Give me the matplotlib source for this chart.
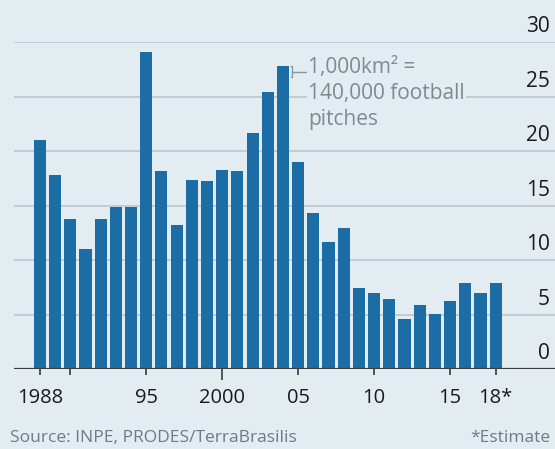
import matplotlib.pyplot as plt

plt.rcParams['font.family'] = ['Open Sans', 'DejaVu Sans']

# Brazilian Amazon deforestation, '000 km2 per year
years = list(range(1988, 2019))
area = [21.05, 17.77, 13.73, 11.03, 13.79, 14.90, 14.90, 29.06, 18.16, 13.23,
        17.38, 17.26, 18.23, 18.17, 21.65, 25.40, 27.77, 19.01, 14.29, 11.65,
        12.91, 7.46, 7.00, 6.42, 4.57, 5.89, 5.01, 6.21, 7.89, 6.95, 7.90]

xticks = [1988, 1990, 1995, 2000, 2005, 2010, 2015, 2018]
xticklabels = ["1988", "", "95", "2000", "05", "10", "15", "18*"]
yticks = [0, 5, 10, 15, 20, 25, 30]

bg = "#e3ecf1"
bar_col = "#1c6ca6"

fig = plt.figure(figsize=(5.55, 4.49), dpi=100, facecolor=bg)
ax = fig.add_axes([14 / 555, 1 - 369 / 449, 541 / 555, 327 / 449])
ax.set_facecolor(bg)

ax.bar(years, area, width=0.8, color=bar_col, zorder=3)

ax.set_xlim(1986.3, 2021.9)
ax.set_ylim(0, 30)

# horizontal gridlines with labels sitting above them on the right
for v in yticks:
    if v == 0:
        ax.axhline(v, color="#3a3a3a", lw=1.6, zorder=4)
    else:
        ax.axhline(v, color="#bcc6cc", lw=1.2, zorder=1)
    ax.text(536 / 541, v + 0.45, str(v),
            transform=ax.get_yaxis_transform(),
            ha="right", va="bottom", fontsize=15, color="#1a1a1a", clip_on=False)

ax.set_yticks([])
ax.set_xticks(xticks)
ax.set_xticklabels(xticklabels, fontsize=14.5, color="#1a1a1a")
ax.tick_params(axis="x", length=4, width=1.2, color="#3a3a3a", pad=10)
ax.get_xticklines()[6].set_markersize(8)
for s in ax.spines.values():
    s.set_visible(False)

# scale note next to the 2004 bar
bx = 2004.62
top = area[16]
ax.plot([bx - 0.12, bx, bx, bx - 0.12], [top, top, top - 1, top - 1],
        color="#8a979f", lw=1, zorder=5)
ax.plot([bx, bx + 1.0], [top - 0.5, top - 0.5], color="#8a979f", lw=1, zorder=5)
ax.text(bx + 1.05, 28.6, "1,000km² =\n140,000 football\npitches",
        ha="left", va="top", fontsize=15, color="#7d8a93", linespacing=1.32,
        bbox=dict(facecolor=bg, edgecolor="none", pad=1), zorder=6)

fig.text(10 / 555, 1 - 438 / 449, "Source: INPE, PRODES/TerraBrasilis",
         ha="left", va="center", fontsize=12.5, color="#6e7a82")
fig.text(550 / 555, 1 - 438 / 449, "*Estimate",
         ha="right", va="center", fontsize=12.5, color="#6e7a82")

plt.savefig("out.png", dpi=100, facecolor=bg)
